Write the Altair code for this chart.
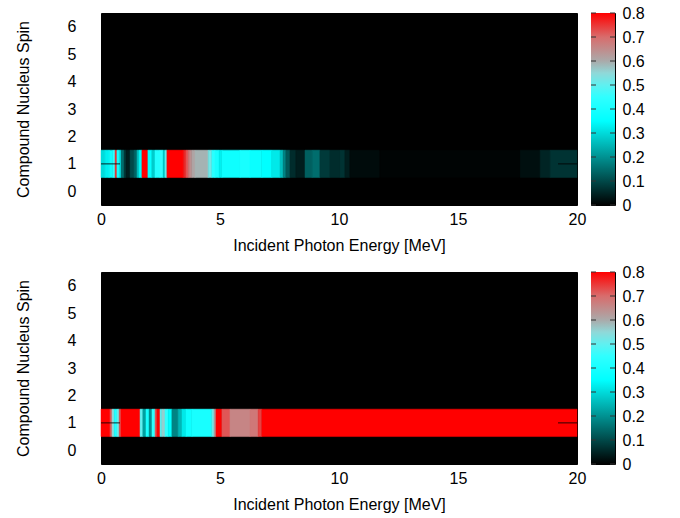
import altair as alt
import pandas as pd

# ---- data (spin-1 row; every other row is 0) ----
top_edges = [0.0, 0.17, 0.34, 0.50, 0.59, 0.67, 0.76, 0.84, 0.97, 1.05, 1.22, 1.39, 1.51, 1.60,
             1.72, 1.97, 2.14, 2.27, 2.48, 2.61, 2.69, 2.77, 3.45, 3.49, 3.57, 3.66, 3.74, 3.82,
             3.95, 4.50, 4.66, 4.79, 4.96, 5.08, 5.84, 6.26, 6.76, 7.18, 7.52, 7.65, 7.77, 7.94,
             8.19, 8.57, 8.87, 9.20, 9.62, 10.04, 10.25, 10.46, 11.72, 17.61, 18.45, 18.87, 20.0]
top_values = [0.30, 0.33, 0.38, 0.45, 0.75, 0.40, 0.33, 0.15, 0.08, 0.04, 0.10, 0.14, 0.25,
              0.35, 0.80, 0.36, 0.28, 0.42, 0.45, 0.28, 0.50, 0.80, 0.78, 0.76, 0.72, 0.68,
              0.64, 0.61, 0.59, 0.52, 0.44, 0.40, 0.33, 0.38, 0.40, 0.37, 0.35, 0.32, 0.26,
              0.18, 0.12, 0.06, 0.04, 0.13, 0.15, 0.08, 0.06, 0.07, 0.04, 0.015, 0.005, 0.02,
              0.05, 0.07]

bot_edges = [0.0, 0.38, 0.46, 0.55, 0.67, 0.76, 0.84, 1.64, 1.76, 1.89, 2.02, 2.14, 2.27,
             2.35, 2.48, 2.56, 2.69, 2.82, 2.98, 3.24, 3.40, 3.57, 3.82, 4.66, 4.75, 4.83,
             5.08, 5.42, 6.26, 6.60, 6.76, 20.0]
bot_values = [0.80, 0.72, 0.55, 0.42, 0.50, 0.72, 0.80, 0.50, 0.22, 0.40, 0.20, 0.45, 0.72,
              0.80, 0.50, 0.56, 0.45, 0.35, 0.18, 0.25, 0.32, 0.38, 0.40, 0.52, 0.62, 0.80,
              0.72, 0.66, 0.68, 0.74, 0.80]

band_spin = 1
spin_ticks = [0, 1, 2, 3, 4, 5, 6]
energy_ticks = [0, 5, 10, 15, 20]
cbar_ticks = [0, 0.1, 0.2, 0.3, 0.4, 0.5, 0.6, 0.7, 0.8]
cbar_range = [0, 0.8]
palette_stops = [0, 0.35, 0.45, 0.5, 0.55, 0.6, 0.7, 0.8]
palette_colors = ['#000000', '#00ffff', '#30ffff', '#60f0f0', '#90d8d8', '#aaaaaa', '#d86c6c', '#ff0000']

FONT = "Liberation Sans"


def y_axis():
    return alt.Axis(values=spin_ticks, title="Compound Nucleus Spin",
                    labelPadding=25, titlePadding=36, labelFlush=False)


def cbar_axis():
    return alt.Axis(orient="right", values=cbar_ticks, title=None, labelPadding=7,
                    labelFlush=False,
                    labelExpr="datum.value == 0 ? '0' : format(datum.value, '.1f')")


def heat_panel(edges, values):
    df = pd.DataFrame({
        "e0": edges[:-1],
        "e1": edges[1:],
        "v": values,
        "spin": [band_spin] * len(values),
    })
    cscale = alt.Scale(domain=palette_stops, range=palette_colors, type="linear", interpolate="rgb")
    yscale = alt.Scale(domain=[-0.5, 6.5], nice=False, zero=False)
    heat = alt.Chart(df).transform_calculate(
        s0="datum.spin - 0.5", s1="datum.spin + 0.5"
    ).mark_rect(strokeWidth=0.5).encode(
        x=alt.X("e0:Q", scale=alt.Scale(domain=[0, 20], nice=False, zero=False),
                axis=alt.Axis(values=energy_ticks, title="Incident Photon Energy [MeV]",
                              labelPadding=6, titlePadding=10, labelFlush=False)),
        x2="e1:Q",
        y=alt.Y("s0:Q", scale=yscale, axis=y_axis()),
        y2="s1:Q",
        color=alt.Color("v:Q", scale=cscale, legend=None),
        stroke=alt.Stroke("v:Q", scale=cscale, legend=None),
    )
    tick_df = pd.DataFrame({"spin": spin_ticks})
    left_ticks = alt.Chart(tick_df).mark_rule(color="black", opacity=0.7, strokeWidth=1.2).encode(
        y=alt.Y("spin:Q", scale=yscale, axis=y_axis()), x=alt.value(0), x2=alt.value(19))
    right_ticks = alt.Chart(tick_df).mark_rule(color="black", opacity=0.7, strokeWidth=1.2).encode(
        y=alt.Y("spin:Q", scale=yscale, axis=y_axis()), x=alt.value(457), x2=alt.value(476))
    return alt.layer(heat, left_ticks, right_ticks).properties(width=476, height=192)


def colorbar():
    span = cbar_range[1] - cbar_range[0]
    grad = alt.LinearGradient(
        gradient="linear",
        stops=[alt.GradientStop(offset=(s - cbar_range[0]) / span, color=c)
               for s, c in zip(palette_stops, palette_colors)],
        x1=0, x2=0, y1=1, y2=0,
    )
    cscale = alt.Scale(domain=cbar_range, nice=False, zero=False)
    bar_df = pd.DataFrame({"lo": [cbar_range[0]], "hi": [cbar_range[1]]})
    bar = alt.Chart(bar_df).mark_rect(fill=grad).encode(
        y=alt.Y("lo:Q", scale=cscale, axis=cbar_axis()),
        y2="hi:Q",
        x=alt.value(0), x2=alt.value(24),
    )
    tdf = pd.DataFrame({"t": cbar_ticks})
    lt = alt.Chart(tdf).mark_rule(color="#333333", strokeWidth=1).encode(
        y=alt.Y("t:Q", scale=cscale, axis=cbar_axis()), x=alt.value(0), x2=alt.value(5))
    rt = alt.Chart(tdf).mark_rule(color="#333333", strokeWidth=1).encode(
        y=alt.Y("t:Q", scale=cscale, axis=cbar_axis()), x=alt.value(19), x2=alt.value(24))
    return alt.layer(bar, lt, rt).properties(width=24, height=192)


def row(edges, values):
    return alt.hconcat(heat_panel(edges, values), colorbar(), spacing=3)


chart = alt.vconcat(row(top_edges, top_values), row(bot_edges, bot_values), spacing=9).resolve_scale(
    color="independent", stroke="independent"
).properties(
    padding={"left": 14, "top": 4, "right": 5, "bottom": 2},
    background="white"
).configure_view(
    fill="black", stroke="black", strokeWidth=1
).configure_axis(
    labelFont=FONT, titleFont=FONT, labelFontSize=16, titleFontSize=16,
    titleFontWeight="normal", labelColor="black", titleColor="black",
    tickSize=0, domain=False, grid=False
)

chart.save("out.html", embed_options={"renderer": "svg", "actions": False})
